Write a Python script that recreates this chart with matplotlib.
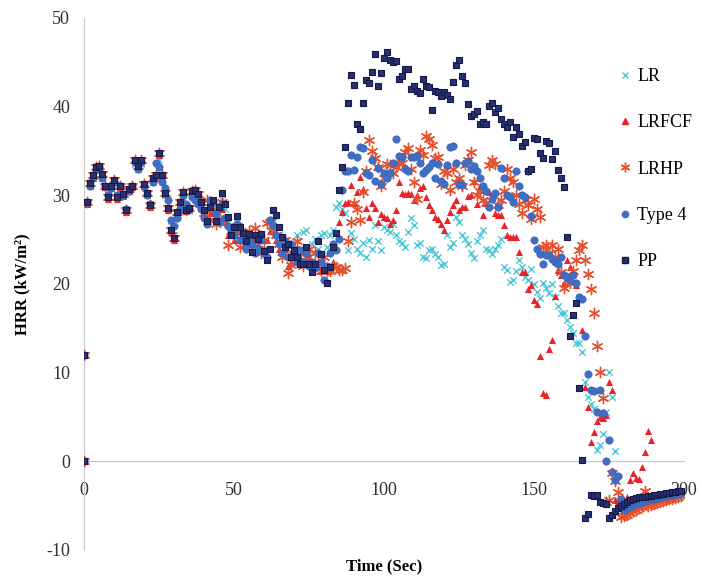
import matplotlib.pyplot as plt
from matplotlib.lines import Line2D

plt.rcParams['font.family'] = ['Liberation Serif', 'DejaVu Serif']
plt.rcParams['axes.unicode_minus'] = False

# time axis (s): two readings at t=0, then one per second
time = [0, 0] + list(range(1, 200))

lr = [0, 12,
      29.0, 31.0, 32.0, 33.0, 33.0, 32.0, 31.0, 30.0, 31.0, 31.5,
      30.0, 31.0, 30.0, 28.5, 30.5, 31.0, 33.5, 33.0, 33.5, 31.0,
      30.0, 29.0, 31.5, 32.0, 34.0, 32.0, 30.0, 28.5, 26.5, 25.5,
      28.0, 29.0, 30.0, 28.5, 28.5, 30.0, 30.0, 29.5, 29.0, 28.0,
      27.5, 28.5, 29.0, 27.5, 28.0, 29.5, 28.5, 27.0, 26.0, 26.0,
      27.0, 26.0, 25.5, 25.0, 25.5, 24.5, 25.0, 25.0, 25.0, 24.0,
      24.0, 26.5, 27.0, 26.0, 25.5, 24.5, 25.0, 24.0, 23.5, 24.5,
      25.5, 24.0, 25.9, 26.1, 23.8, 24.5, 25.1, 24.0, 25.5, 25.7,
      24.2, 25.5, 26.1, 28.7, 29.1, 28.5, 28.0, 23.8, 25.7, 25.1,
      24.0, 23.5, 24.6, 23.1, 25.0, 24.0, 26.6, 24.9, 23.8, 26.4,
      26.1, 25.9, 26.8, 25.5, 24.9, 24.6, 24.2, 25.9, 27.4, 26.6,
      24.4, 24.6, 23.1, 22.9, 23.8, 24.0, 23.4, 23.1, 22.1, 22.3,
      25.5, 24.2, 24.6, 27.6, 27.0, 25.5, 25.1, 24.5, 23.5, 22.9,
      24.9, 25.5, 26.1, 24.0, 23.8, 23.4, 24.0, 24.4, 25.1, 21.9,
      21.6, 20.2, 20.5, 21.5, 22.7, 21.9, 20.8, 20.5, 21.7, 20.0,
      19.1, 18.4, 20.1, 19.5, 19.0, 20.0, 18.5, 17.5, 16.7, 16.7,
      15.9, 15.1, 14.5, 13.3, 13.4, 12.3, 9.0, 7.2, 6.5, 5.9,
      1.3, 1.8, 3.1, 5.6, 10.1, 7.3, 1.2, -4.4, -4.8, -5.0,
      -4.9, -4.8, -4.7, -4.6, -4.5, -4.4, -4.3, -4.2, -4.1, -4.0,
      -4.0, -3.9, -3.9, -3.8, -3.8, -3.8, -3.7, -3.7, -3.7]

lrfcf = [0, 12,
         29.0, 31.2, 32.1, 33.0, 33.1, 32.2, 30.9, 29.6, 30.8, 31.5,
         29.6, 30.9, 29.9, 28.1, 30.5, 30.9, 33.8, 33.1, 33.8, 31.1,
         30.1, 28.7, 31.7, 32.1, 34.6, 32.1, 30.1, 28.4, 25.9, 25.0,
         27.9, 29.0, 30.2, 28.2, 28.4, 30.3, 30.4, 29.9, 29.0, 28.0,
         28.5, 28.0, 28.0, 27.0, 27.5, 28.5, 27.0, 25.5, 25.5, 25.0,
         26.0, 25.0, 25.0, 24.5, 25.5, 24.0, 25.0, 24.5, 24.0, 24.0,
         25.0, 26.0, 26.0, 25.0, 24.0, 23.5, 24.0, 22.0, 22.5, 23.0,
         23.5, 23.0, 22.5, 22.5, 23.0, 22.0, 22.5, 22.0, 21.5, 22.0,
         21.5, 21.8, 22.5, 24.0, 27.0, 28.1, 29.1, 29.3, 31.2, 29.1,
         30.4, 32.1, 30.7, 28.6, 27.6, 29.1, 28.6, 27.0, 27.9, 27.6,
         27.4, 26.8, 27.2, 28.3, 31.5, 30.3, 30.2, 30.3, 30.1, 29.5,
         30.0, 30.8, 31.0, 29.8, 28.9, 28.4, 27.6, 27.3, 26.8, 26.1,
         27.2, 28.1, 28.9, 29.5, 28.3, 28.7, 28.7, 29.9, 30.0, 31.6,
         29.0, 31.0, 27.8, 29.1, 30.4, 29.8, 28.0, 27.8, 27.8, 26.7,
         25.5, 25.3, 25.3, 25.3, 23.6, 21.4, 21.4, 19.4, 19.9, 18.2,
         17.8, 11.9, 7.7, 7.5, 12.7, 13.7, 18.6, 21.6, 21.0, 20.1,
         22.7, 21.9, 21.2, 19.9, 18.5, 14.8, 8.4, 6.1, 2.2, 3.3,
         4.5, 5.0, 4.9, 5.2, 9.0, 8.1, -4.4, -4.6, -5.0, -5.2,
         -4.0, -2.1, -1.3, -1.9, -2.0, -0.6, 1.0, 3.4, 2.4, -4.6,
         -4.5, -4.4, -4.3, -4.2, -4.1, -4.0, -3.9, -3.8, -3.7]

lrhp = [0, 12,
        29.2, 31.4, 32.3, 33.2, 33.3, 32.4, 31.1, 29.8, 31.0, 31.7,
        29.8, 31.1, 30.1, 28.3, 30.7, 31.1, 34.0, 33.3, 34.0, 31.3,
        30.3, 28.9, 31.9, 32.3, 34.8, 32.3, 30.3, 28.6, 26.1, 25.2,
        28.1, 29.2, 30.4, 28.4, 28.6, 30.5, 30.6, 30.1, 29.2, 28.0,
        29.5, 27.2, 28.5, 26.8, 27.5, 29.2, 27.0, 24.4, 26.0, 25.5,
        26.5, 24.2, 25.0, 24.5, 26.0, 25.0, 26.3, 24.0, 23.5, 25.0,
        26.9, 27.0, 26.0, 25.5, 24.5, 23.0, 25.0, 21.2, 22.1, 24.0,
        24.8, 23.5, 22.0, 23.0, 24.0, 22.0, 23.5, 22.5, 21.5, 23.0,
        21.5, 21.5, 22.0, 21.9, 21.6, 21.6, 21.8, 24.8, 27.0, 29.1,
        28.5, 27.2, 30.4, 32.7, 36.2, 35.0, 34.2, 33.2, 31.0, 32.0,
        33.5, 33.4, 32.5, 33.2, 33.7, 33.6, 34.9, 35.3, 33.0, 31.5,
        29.6, 35.1, 34.6, 36.7, 36.4, 35.7, 34.2, 34.3, 31.3, 32.7,
        32.5, 30.6, 33.0, 31.5, 32.0, 31.0, 33.4, 34.0, 34.9, 31.5,
        30.0, 30.5, 29.5, 29.1, 33.4, 34.0, 33.5, 28.9, 29.5, 30.5,
        33.0, 31.9, 31.5, 30.0, 29.0, 28.0, 29.5, 28.9, 27.3, 29.6,
        28.5, 27.6, 24.2, 24.4, 23.5, 24.4, 23.1, 24.0, 21.4, 19.5,
        20.5, 20.1, 21.5, 22.7, 23.8, 24.4, 22.7, 21.1, 19.4, 16.7,
        13.0, 10.1, 7.1, -4.6, -4.4, -1.3, -2.2, -3.5, -6.3, -6.2,
        -6.0, -5.8, -5.6, -5.5, -5.3, -5.2, -3.4, -5.0, -4.9, -4.8,
        -4.7, -4.6, -4.5, -4.4, -4.3, -4.2, -4.1, -4.0, -3.9]

type4 = [0, 12,
         29.2, 31.0, 32.0, 33.0, 33.2, 32.0, 31.0, 30.0, 30.8, 31.5,
         30.0, 31.0, 30.0, 28.5, 30.5, 31.0, 33.8, 33.0, 33.8, 31.0,
         30.0, 29.0, 31.5, 33.7, 33.2, 31.5, 30.8, 29.5, 27.2, 26.5,
         27.5, 28.5, 30.0, 29.0, 28.5, 29.8, 29.5, 29.0, 28.5, 27.5,
         26.8, 29.5, 29.3, 28.0, 27.0, 29.0, 27.5, 26.5, 26.0, 25.5,
         26.8, 25.0, 25.5, 24.0, 25.0, 24.5, 23.5, 24.0, 25.0, 23.5,
         23.0, 27.2, 26.7, 25.5, 24.5, 23.5, 24.8, 23.0, 24.5, 23.5,
         22.5, 23.8, 22.5, 23.5, 22.0, 22.5, 21.8, 23.5, 22.5, 20.5,
         22.0, 23.5, 24.5, 23.8, 25.1, 30.6, 32.7, 32.8, 34.6, 32.9,
         34.3, 35.5, 35.3, 32.5, 32.3, 34.0, 31.6, 33.1, 31.3, 32.5,
         32.0, 32.5, 33.7, 36.3, 34.4, 34.3, 33.0, 32.8, 34.3, 34.3,
         34.4, 33.6, 32.5, 32.9, 33.2, 33.7, 31.9, 33.5, 31.6, 31.3,
         33.4, 35.4, 35.6, 33.7, 31.3, 31.2, 33.6, 33.9, 33.0, 33.3,
         32.8, 32.0, 31.0, 30.5, 28.7, 29.6, 30.3, 28.7, 33.1, 32.0,
         30.0, 29.8, 29.2, 32.8, 31.0, 30.0, 29.8, 32.8, 27.7, 25.0,
         23.9, 23.4, 22.2, 23.3, 23.3, 22.8, 22.5, 22.3, 23.1, 21.0,
         20.8, 20.4, 21.0, 20.1, 18.5, 18.3, 14.1, 9.9, 8.0, 7.9,
         5.6, 8.0, 5.5, 0.0, 2.4, -1.2, -2.1, -1.6, -4.2, -5.5,
         -5.3, -5.1, -4.9, -4.8, -4.7, -4.6, -4.5, -4.4, -4.3, -4.2,
         -4.1, -4.0, -3.9, -3.9, -3.8, -3.8, -3.7, -3.7, -3.6]

pp = [0, 12,
      29.2, 31.4, 32.3, 33.2, 33.3, 32.4, 31.1, 29.8, 31.0, 31.7,
      29.8, 31.1, 30.1, 28.3, 30.7, 31.1, 34.0, 33.3, 34.0, 31.3,
      30.3, 28.9, 31.9, 32.3, 34.8, 32.3, 30.3, 28.6, 26.1, 25.2,
      28.1, 29.2, 30.4, 28.4, 28.6, 30.5, 30.6, 30.1, 29.2, 28.3,
      27.1, 28.7, 29.5, 27.1, 28.7, 30.3, 29.0, 27.6, 25.5, 26.4,
      27.7, 26.4, 25.8, 24.9, 25.6, 23.6, 25.5, 25.1, 25.6, 23.7,
      22.7, 24.0, 28.4, 27.8, 26.4, 25.3, 24.2, 24.5, 23.1, 23.8,
      23.0, 22.2, 22.3, 24.2, 22.2, 21.4, 22.3, 24.9, 23.4, 21.6,
      20.1, 21.9, 24.2, 25.7, 30.6, 33.2, 35.5, 40.4, 43.6, 42.4,
      38.0, 37.5, 40.4, 43.0, 42.7, 43.9, 45.9, 42.3, 43.8, 45.5,
      46.2, 45.3, 45.0, 45.1, 43.1, 43.5, 44.3, 44.3, 42.0, 42.3,
      41.8, 41.5, 43.1, 42.3, 42.2, 39.6, 41.8, 41.7, 41.2, 41.7,
      41.3, 40.9, 42.8, 44.7, 45.3, 43.5, 42.7, 40.3, 38.9, 39.2,
      39.5, 38.0, 38.3, 38.0, 40.1, 40.4, 39.4, 39.9, 38.6, 38.0,
      37.7, 38.3, 36.6, 37.7, 36.9, 35.6, 36.0, 32.8, 33.0, 36.5,
      36.3, 34.8, 34.2, 36.1, 35.9, 34.1, 35.0, 32.9, 31.9, 30.9,
      25.3, 14.1, 16.5, 17.9, 8.3, 0.1, -6.4, -5.9, -3.8, -3.9,
      -3.8, -4.6, -4.7, -4.8, -6.4, -6.0, -5.6, -5.3, -5.0, -4.8,
      -4.6, -4.4, -4.2, -4.1, -4.0, -4.0, -4.0, -3.9, -3.9, -3.8,
      -3.8, -3.7, -3.7, -3.6, -3.6, -3.5, -3.5, -3.4, -3.4]

labels = ['LR', 'LRFCF', 'LRHP', 'Type 4', 'PP']

fig = plt.figure(figsize=(7.02, 5.77), dpi=100)
ax = fig.add_axes([84 / 702, 27 / 577, 600 / 702, 532 / 577])

# series drawn in legend order, later ones on top
ax.scatter(time, lr, marker='x', s=22, color='#4cc6d8', linewidths=1.0, zorder=2)
ax.scatter(time, lrfcf, marker='^', s=26, color='#e8232b', linewidths=0, zorder=3)
ax.scatter(time, lrhp, marker=(6, 2, 0), s=55, color='#e5502d', linewidths=1.0, zorder=4)
ax.scatter(time, type4, marker='o', s=28, color='#3f6fc4', edgecolors='#3a64b4',
           linewidths=0.5, zorder=5)
ax.scatter(time, pp, marker='s', s=24, color='#28306f', edgecolors='#141a4a',
           linewidths=0.8, zorder=6)

ax.set_xlim(0, 200)
ax.set_ylim(-10, 50)
ax.set_xticks([0, 50, 100, 150, 200])
ax.set_yticks([-10, 0, 10, 20, 30, 40, 50])

for side in ['top', 'right']:
    ax.spines[side].set_visible(False)
ax.spines['left'].set_color('#c8c8c8')
ax.spines['left'].set_position(('data', 0))
ax.spines['bottom'].set_color('#c8c8c8')
ax.spines['bottom'].set_position(('data', 0))
ax.tick_params(axis='both', length=0, labelsize=13, colors='#303030')
ax.tick_params(axis='x', pad=15)
ax.tick_params(axis='y', pad=10)

fig.text(22 / 702, 1 - 284 / 577, 'HRR (kW/m²)', rotation=90, fontsize=12,
         fontweight='bold', ha='center', va='center')
fig.text(384 / 702, 1 - 566 / 577, 'Time (Sec)', fontsize=12,
         fontweight='bold', ha='center', va='center')

handles = [
    Line2D([], [], ls='', marker='x', ms=4, mew=1.0, color='#4cc6d8'),
    Line2D([], [], ls='', marker='^', ms=4.5, color='#e8232b'),
    Line2D([], [], ls='', marker=(6, 2, 0), ms=7, mew=1.0, color='#e5502d'),
    Line2D([], [], ls='', marker='o', ms=4.5, color='#3f6fc4'),
    Line2D([], [], ls='', marker='s', ms=4.5, color='#28306f', mec='#141a4a'),
]
fig.legend(handles, labels, loc='upper left', bbox_to_anchor=(612 / 702, 1 - 61 / 577),
           frameon=False, fontsize=13, handlelength=0.6, handletextpad=0.4,
           labelspacing=1.62, borderaxespad=0)

fig.savefig('out.png', dpi=100)
